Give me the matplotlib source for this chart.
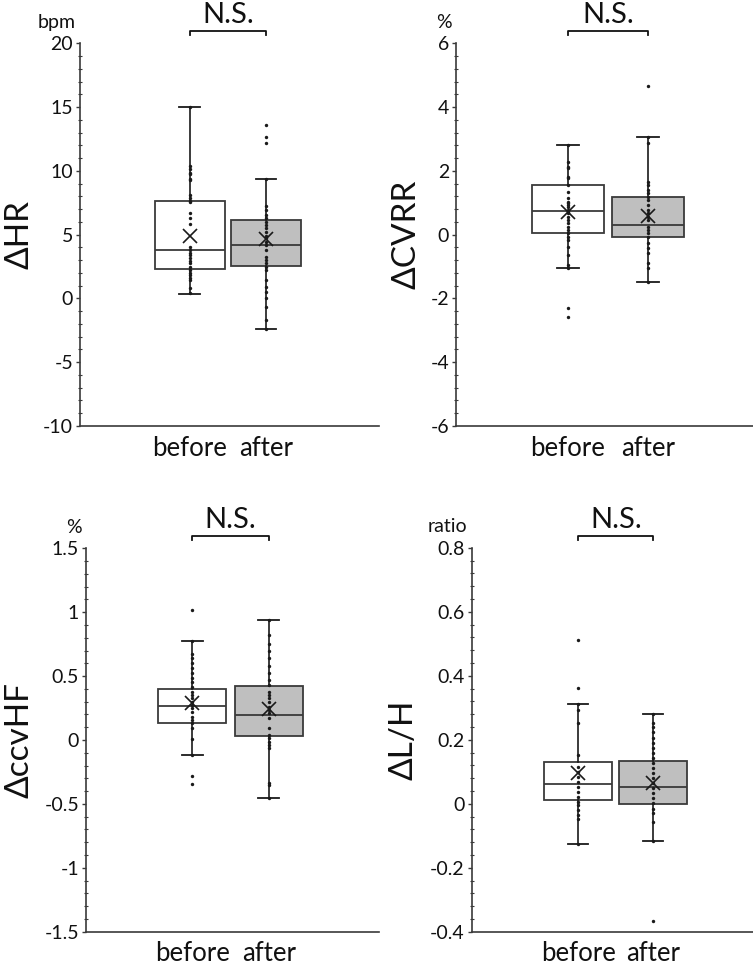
import matplotlib
matplotlib.use('Agg')
import matplotlib.pyplot as plt
import matplotlib.transforms as mtransforms
from matplotlib.ticker import MultipleLocator, AutoMinorLocator

plt.rcParams['font.family'] = ['Lato', 'DejaVu Sans']

groups = ['before', 'after']

# --- dHR (bpm) ---
hr_before = [15.0, 10.41, 10.15, 9.84, 9.73, 9.37, 9.27, 8.12, 7.91, 7.65, 7.54, 6.68, 6.29,
             5.84, 4.06, 3.80, 3.59, 3.41, 3.15, 2.94, 2.75, 2.49, 2.23, 2.02, 1.84, 1.63,
             1.45, 0.80, 0.40]
hr_after = [13.57, 12.63, 12.16, 9.34, 7.27, 6.93, 6.54, 6.28, 6.02, 5.76, 5.50, 5.18, 4.92,
            4.71, 4.40, 4.19, 3.80, 3.28, 3.02, 2.75, 2.49, 2.23, 1.45, 0.93, 0.53, 0.01,
            -0.64, -1.69, -2.39]
hr_q1 = [2.31, 2.57]
hr_med = [3.80, 4.22]
hr_q3 = [7.64, 6.15]
hr_lo = [0.35, -2.39]
hr_hi = [15.0, 9.34]
hr_mean = [4.92, 4.66]

# --- dCVRR (%) ---
cvrr_before = [2.82, 2.29, 2.13, 2.08, 1.82, 1.77, 1.56, 1.35, 1.14, 1.03, 0.98, 0.93, 0.88,
               0.77, 0.72, 0.67, 0.56, 0.46, 0.36, 0.25, 0.15, 0.04, -0.06, -0.17, -0.38,
               -0.64, -0.95, -1.05, -2.29, -2.57]
cvrr_after = [4.67, 3.05, 2.86, 1.66, 1.56, 1.40, 1.30, 1.19, 1.09, 0.93, 0.77, 0.67, 0.56,
              0.46, 0.25, 0.15, 0.04, -0.06, -0.27, -0.43, -0.59, -0.90, -1.06, -1.48]
cvrr_q1 = [0.05, -0.08]
cvrr_med = [0.75, 0.29]
cvrr_q3 = [1.57, 1.18]
cvrr_lo = [-1.05, -1.48]
cvrr_hi = [2.82, 3.05]
cvrr_mean = [0.70, 0.59]

# --- dccvHF (%) ---
hf_before = [1.017, 0.777, 0.673, 0.639, 0.600, 0.561, 0.522, 0.483, 0.456, 0.417, 0.378,
             0.352, 0.326, 0.300, 0.274, 0.248, 0.222, 0.183, 0.156, 0.130, 0.091, 0.005,
             -0.115, -0.279, -0.344]
hf_after = [0.939, 0.822, 0.751, 0.699, 0.639, 0.579, 0.527, 0.469, 0.430, 0.378, 0.352,
            0.326, 0.300, 0.261, 0.235, 0.209, 0.170, 0.091, 0.039, 0.013, -0.013, -0.039,
            -0.065, -0.339, -0.352, -0.454]
hf_q1 = [0.136, 0.029]
hf_med = [0.263, 0.196]
hf_q3 = [0.400, 0.425]
hf_lo = [-0.115, -0.454]
hf_hi = [0.777, 0.939]
hf_mean = [0.292, 0.240]

# --- dL/H (ratio) ---
lh_before = [0.511, 0.361, 0.311, 0.293, 0.251, 0.152, 0.114, 0.100, 0.084, 0.069, 0.053,
             0.038, 0.022, 0.006, -0.004, -0.020, -0.035, -0.049, -0.127]
lh_after = [0.281, 0.251, 0.241, 0.225, 0.204, 0.189, 0.173, 0.157, 0.142, 0.126, 0.113,
            0.095, 0.079, 0.064, 0.048, 0.032, 0.017, 0.001, -0.015, -0.030, -0.056,
            -0.117, -0.368]
lh_q1 = [0.011, 0.000]
lh_med = [0.0625, 0.052]
lh_q3 = [0.131, 0.133]
lh_lo = [-0.127, -0.117]
lh_hi = [0.311, 0.281]
lh_mean = [0.095, 0.064]

panels = [
    dict(label='ΔHR', unit='bpm', pts=[hr_before, hr_after],
         q1=hr_q1, med=hr_med, q3=hr_q3, lo=hr_lo, hi=hr_hi, mean=hr_mean,
         ylim=(-10, 20), major=5, labx=35,
         rect=(80, 43.3, 379, 426), xlim=(-0.438, 3.48), width=0.917),
    dict(label='ΔCVRR', unit='%', pts=[cvrr_before, cvrr_after],
         q1=cvrr_q1, med=cvrr_med, q3=cvrr_q3, lo=cvrr_lo, hi=cvrr_hi, mean=cvrr_mean,
         ylim=(-6, 6), major=2, labx=421,
         rect=(456, 43.3, 753, 426), xlim=(-0.405, 3.32), width=0.90),
    dict(label='ΔccvHF', unit='%', pts=[hf_before, hf_after],
         q1=hf_q1, med=hf_med, q3=hf_q3, lo=hf_lo, hi=hf_hi, mean=hf_mean,
         ylim=(-1.5, 1.5), major=0.5, labx=35,
         rect=(86, 548.3, 379, 931.7), xlim=(-0.393, 3.445), width=0.89),
    dict(label='ΔL/H', unit='ratio', pts=[lh_before, lh_after],
         q1=lh_q1, med=lh_med, q3=lh_q3, lo=lh_lo, hi=lh_hi, mean=lh_mean,
         ylim=(-0.4, 0.8), major=0.2, labx=419,
         rect=(471.7, 547.7, 753, 931.7), xlim=(-0.421, 3.33), width=0.907),
]

W, H = 753, 971
fig = plt.figure(figsize=(W / 100, H / 100), dpi=100)
edge = '#3a3a3a'
fills = ['white', '#bfbfbf']

for p in panels:
    l, t, r, b = p['rect']
    ax = fig.add_axes([l / W, 1 - b / H, (r - l) / W, (b - t) / H])
    stats = []
    for i in range(2):
        stats.append(dict(q1=p['q1'][i], med=p['med'][i], q3=p['q3'][i],
                          whislo=p['lo'][i], whishi=p['hi'][i], mean=p['mean'][i],
                          fliers=[]))
    bp = ax.bxp(stats, positions=[1, 2], widths=p['width'], showmeans=True,
                showfliers=False, patch_artist=True, capwidths=0.27,
                boxprops=dict(edgecolor=edge, linewidth=1.3),
                medianprops=dict(color=edge, linewidth=1.3),
                whiskerprops=dict(color='#1a1a1a', linewidth=1.2),
                capprops=dict(color='#1a1a1a', linewidth=1.3),
                meanprops=dict(marker='x', markeredgecolor='#1a1a1a',
                               markersize=10, markeredgewidth=1.2))
    for patch, fc in zip(bp['boxes'], fills):
        patch.set_facecolor(fc)
    for line in bp['means']:
        line.set_zorder(5)
    for i, vals in enumerate(p['pts']):
        ax.scatter([i + 1] * len(vals), vals, s=6, color='#1a1a1a', zorder=4,
                   linewidths=0)

    ax.set_xlim(*p['xlim'])
    ax.set_ylim(*p['ylim'])
    ax.set_xticks([1, 2])
    ax.set_xticklabels(groups, fontsize=18.5, color='#111111')
    ax.tick_params(axis='x', length=0, pad=7)
    ax.yaxis.set_major_locator(MultipleLocator(p['major']))
    ax.yaxis.set_minor_locator(AutoMinorLocator(5))
    ticks = [v for v in ax.get_yticks() if p['ylim'][0] - 1e-9 <= v <= p['ylim'][1] + 1e-9]
    ax.set_yticks(ticks)
    ax.set_yticklabels(['{:g}'.format(round(v, 6)) for v in ticks])
    ax.set_ylim(*p['ylim'])
    ax.tick_params(axis='y', which='major', direction='out', length=3, width=1,
                   labelsize=14, pad=2, color=edge, labelcolor='#111111')
    ax.tick_params(axis='y', which='minor', direction='inout', length=3, width=0.8,
                   color=edge)
    for s in ['top', 'right']:
        ax.spines[s].set_visible(False)
    for s in ['left', 'bottom']:
        ax.spines[s].set_color(edge)
        ax.spines[s].set_linewidth(1.2)

    ax.set_ylabel(p['label'], fontsize=24, color='#111111')
    ax.yaxis.set_label_coords((p['labx'] - l) / (r - l), 0.5)

    # unit above the axis
    off = mtransforms.offset_copy(ax.transAxes, fig=fig, x=-4, y=21, units='dots')
    ax.text(0, 1, p['unit'], transform=off, ha='right', va='center',
            fontsize=14, color='#111111')

    # N.S. bracket
    tr = mtransforms.blended_transform_factory(ax.transData, ax.transAxes)
    yb = 1 + 12 / (b - t)
    ytick = yb - 4 / (b - t)
    ax.plot([1, 1, 2, 2], [ytick, yb, yb, ytick], transform=tr, color='#111111',
            linewidth=1.3, clip_on=False)
    ax.text(1.5, yb + 3 / (b - t), 'N.S.', transform=tr, ha='center', va='bottom',
            fontsize=21, color='#111111')

fig.savefig('out.png', dpi=100)
